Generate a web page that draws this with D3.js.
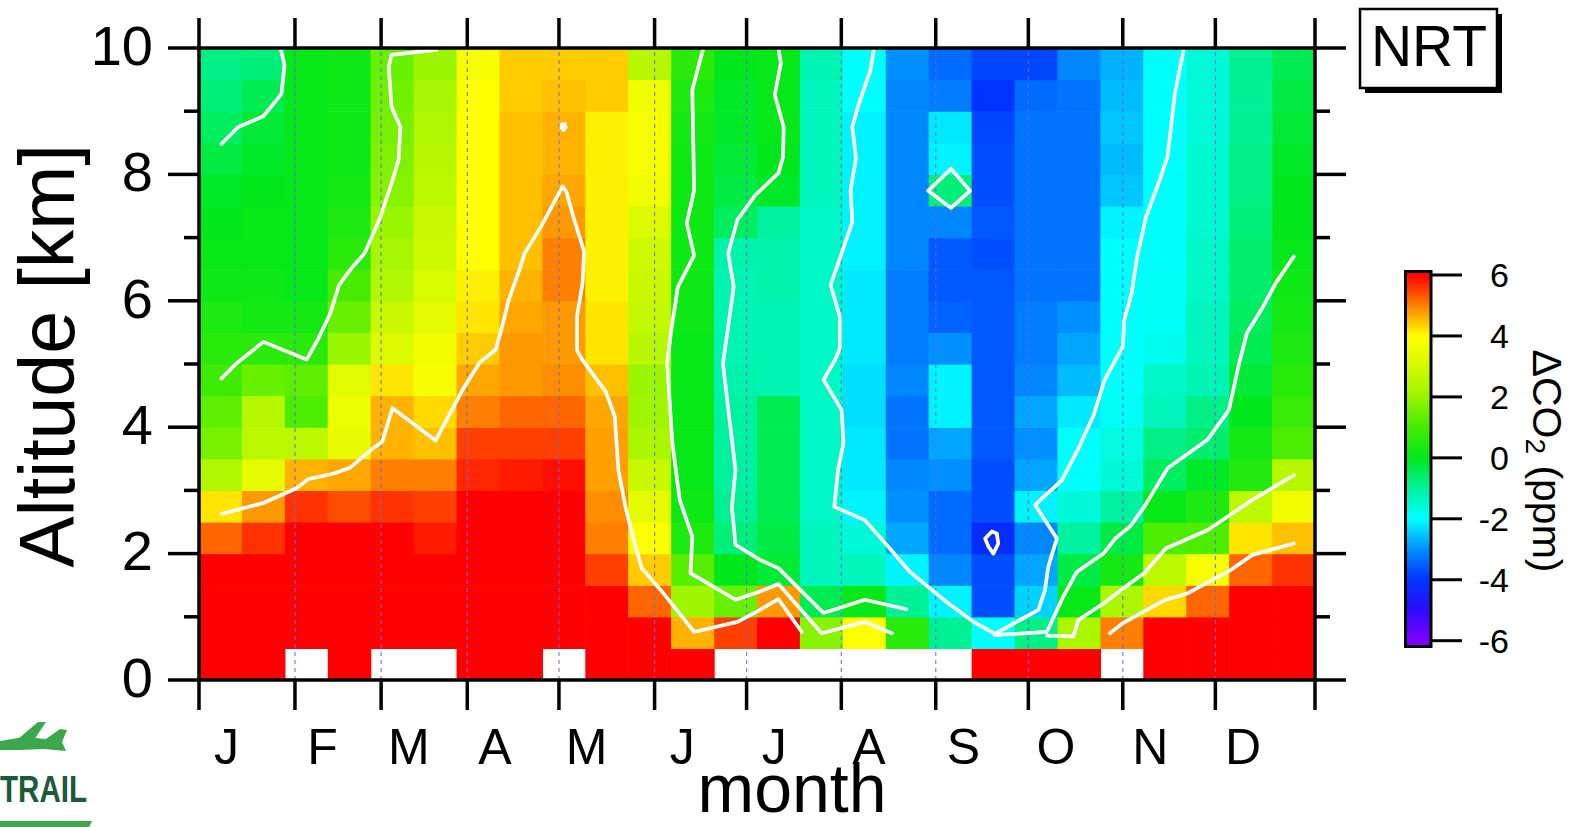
<!DOCTYPE html>
<html>
<head>
<meta charset="utf-8">
<script src="https://cdn.jsdelivr.net/npm/d3@7"></script>
<style>
  html, body { margin: 0; padding: 0; background: #ffffff; }
  svg { display: block; }
  text { font-family: "Liberation Sans", Arial, Helvetica, sans-serif; fill: #000; }
</style>
</head>
<body>
<svg id="chart" width="1571" height="827"></svg>
<script>
// ---- bins: 26 two-week periods, 20 layers of 0.5 km ----
const binWidthDays = 14;
const binStartDays = d3.range(0, 364, binWidthDays);
const binHeightKm = 0.5;
const altitudeBins = d3.range(0, 10, binHeightKm);

// ---- month axis ----
const monthStartDays = [0, 31.3, 59.4, 87.5, 117.4, 148.6, 178.6, 209.5, 240.3, 270.5, 301.3, 331.5, 364];
const monthLabels = ["J", "F", "M", "A", "M", "J", "J", "A", "S", "O", "N", "D"];
const monthLabelShiftDays = 9;

// ---- altitude axis ----
const altMajorTicks = [0, 2, 4, 6, 8, 10];
const altMinorTicks = [1, 3, 5, 7, 9];

// ---- colour bar ----
const colorStops = [-6, -5, -4, -3, -2, -1, 0, 1, 2, 3, 4, 5, 6];
const colorRange = ["#7f00ff", "#2a0cff", "#0033ff", "#0090ff", "#00ffff", "#00f2a0", "#00e81c",
                    "#45ec00", "#99f500", "#d4fa00", "#ffff00", "#ff8000", "#ff0000"];
const colorbarTicks = [-6, -4, -2, 0, 2, 4, 6];

// ---- ΔCO2 (ppm), one row per altitude layer (0-0.5 km first), one value per two-week bin; null = no data ----
const dco2_00 = [7, 7, null, 7, null, null, 7, 7, null, 7, 7, 7, null, null, null, null, null, null, 7, 7, 7, null, 7, 7, 7, 7];
const dco2_05 = [7, 7, 7, 7, 7, 7, 7, 7, 7, 7, 7, 4.6, 5.5, 7, 1.8, 4.0, 0.6, -0.9, -2.0, -0.8, 2.3, 5.0, 7, 7, 7, 7];
const dco2_10 = [7, 7, 7, 7, 7, 7, 7, 7, 7, 7, 5.2, 2.1, 1.4, 4.8, -0.4, 0.1, -0.9, -2.1, -3.7, -2.4, 0.1, 2.3, 4.3, 5.2, 7, 7];
const dco2_15 = [7, 7, 7, 7, 7, 7, 7, 7, 7, 5.5, 4.4, 1.2, 0.0, -0.2, -1.3, -1.3, -2.1, -3.1, -3.7, -2.8, -0.3, 0.3, 2.6, 3.8, 5.2, 5.6];
const dco2_20 = [5.2, 5.6, 7, 7, 7, 5.8, 7, 7, 7, 5.0, 3.9, 0.4, -0.7, -0.3, -1.3, -1.6, -2.8, -3.4, -4.2, -3.1, -1.0, -0.3, 1.1, 1.1, 4.2, 4.5];
const dco2_25 = [4.2, 4.8, 5.6, 5.4, 5.6, 5.5, 7, 7, 7, 4.9, 3.4, 0.2, -0.9, -0.4, -1.4, -2.1, -3.0, -3.4, -3.7, -2.1, -1.6, -1.0, 0.1, 0.4, 2.6, 3.7];
const dco2_30 = [2.4, 3.4, 4.6, 4.7, 5.0, 5.0, 5.7, 5.8, 5.9, 4.75, 2.8, 0.1, -1.0, -0.4, -1.4, -2.2, -3.1, -3.0, -3.7, -2.8, -2.0, -1.6, -0.5, -0.1, 0.5, 2.5];
const dco2_35 = [1.6, 2.6, 2.6, 3.5, 4.6, 4.5, 5.5, 5.5, 5.5, 4.75, 2.3, 0.1, -1.0, -0.4, -1.4, -2.2, -3.3, -2.8, -3.6, -3.0, -2.0, -1.7, -0.8, -0.6, 0.3, 1.1];
const dco2_40 = [1.3, 2.5, 1.1, 3.6, 4.6, 4.3, 5.0, 5.2, 5.2, 4.7, 2.1, 0.1, -1.0, -0.4, -1.4, -2.3, -3.3, -2.1, -3.6, -2.8, -2.2, -1.9, -1.3, -0.8, 0.0, 0.8];
const dco2_45 = [0.9, 1.4, 1.3, 3.3, 4.2, 3.8, 4.7, 4.8, 4.9, 4.5, 2.0, 0.1, -1.1, -1.2, -1.4, -2.3, -3.1, -2.1, -3.6, -3.1, -2.6, -2.0, -1.4, -1.2, -0.2, 0.6];
const dco2_50 = [0.6, 0.6, 0.6, 2.0, 3.2, 3.7, 4.4, 4.8, 4.8, 4.2, 2.5, 0.1, -1.2, -1.2, -1.4, -2.2, -3.2, -3.0, -3.6, -3.2, -2.8, -2.0, -1.8, -1.3, -0.4, 0.4];
const dco2_55 = [0.4, 0.3, 0.3, 1.4, 2.8, 3.4, 4.2, 4.7, 4.8, 4.2, 2.7, 0.2, -1.2, -1.2, -1.4, -2.2, -3.2, -3.5, -3.6, -3.2, -3.0, -2.0, -1.9, -1.3, -0.5, 0.3];
const dco2_60 = [0.2, 0.2, 0.1, 1.0, 2.4, 3.1, 4.1, 4.6, 5.0, 4.1, 2.8, 0.2, -1.2, -1.1, -1.4, -2.2, -3.2, -3.6, -3.6, -3.3, -3.3, -2.0, -1.9, -1.4, -0.6, 0.2];
const dco2_65 = [0.1, 0.1, 0.1, 0.6, 2.2, 2.9, 4.0, 4.5, 5.0, 4.1, 2.9, 0.2, -1.1, -1.1, -1.4, -2.1, -3.1, -3.6, -3.7, -3.3, -3.3, -2.0, -2.0, -1.4, -0.6, 0.1];
const dco2_70 = [0.0, 0.1, 0.1, 0.4, 2.0, 2.8, 4.0, 4.5, 4.8, 4.1, 3.2, 0.2, -0.5, -1.0, -1.4, -2.1, -3.1, -3.1, -3.6, -3.3, -3.3, -2.1, -2.0, -1.5, -0.7, 0.0];
const dco2_75 = [-0.1, 0.0, 0.1, 0.3, 1.8, 2.6, 4.0, 4.5, 4.7, 4.1, 3.7, 0.2, -0.3, -0.1, -1.3, -2.1, -3.1, -0.7, -3.7, -3.3, -3.3, -2.5, -2.0, -1.5, -0.8, 0.0];
const dco2_80 = [-0.3, -0.1, 0.1, 0.2, 1.7, 2.5, 4.0, 4.5, 4.6, 4.1, 3.8, 0.2, -0.2, 0.0, -1.3, -2.1, -3.1, -2.1, -3.7, -3.3, -3.3, -2.6, -2.0, -1.5, -0.8, -0.1];
const dco2_85 = [-0.5, -0.2, 0.1, 0.2, 1.6, 2.4, 4.0, 4.5, 4.6, 4.1, 3.8, 0.3, -0.1, 0.1, -1.3, -2.1, -3.1, -2.2, -3.8, -3.3, -3.3, -2.5, -2.0, -1.6, -0.9, -0.2];
const dco2_90 = [-0.7, -0.4, 0.1, 0.2, 1.5, 2.2, 4.0, 4.4, 4.5, 4.4, 3.7, 0.4, -0.1, 0.1, -1.3, -2.0, -3.1, -3.2, -4.0, -3.4, -3.3, -2.6, -2.0, -1.6, -0.9, -0.3];
const dco2_95 = [-0.8, -0.7, 0.1, 0.2, 1.4, 2.0, 3.8, 4.4, 4.4, 4.4, 2.5, 0.6, 0.0, 0.1, -1.2, -2.0, -3.0, -3.4, -3.8, -3.8, -3.1, -2.7, -2.0, -1.6, -0.9, -0.4];
const deltaCO2 = [dco2_00, dco2_05, dco2_10, dco2_15, dco2_20, dco2_25, dco2_30, dco2_35, dco2_40, dco2_45,
                  dco2_50, dco2_55, dco2_60, dco2_65, dco2_70, dco2_75, dco2_80, dco2_85, dco2_90, dco2_95];

// ---- contour lines: [day of year, altitude km] ----
const contourA = [[26.6,10.0],[27.9,9.73],[26.9,9.28],[26.0,9.22],[21.0,8.92],[12.8,8.75],[7.3,8.48]];
const contourB = [[77.4,9.97],[62.8,9.89],[61.9,9.70],[62.8,9.07],[65.7,8.75],[65.1,8.23],[62.8,7.86],[59.2,7.33],[54.0,6.75],[49.3,6.49],[45.7,6.25],[42.8,5.80],[38.7,5.38],[35.1,5.07],[21.0,5.35],[12.2,5.01],[7.3,4.77]];
const contourC = [[7.5,2.63],[21.0,2.80],[31.6,3.03],[35.7,3.18],[43.4,3.26],[49.3,3.36],[56.9,3.67],[59.8,3.77],[63.1,4.30],[77.2,3.79],[81.0,4.14],[86.3,4.62],[91.7,5.03],[96.8,5.23],[98.6,5.54],[101.0,6.01],[104.5,6.49],[106.2,6.75],[111.5,7.17],[118.6,7.81],[119.8,7.73],[122.1,7.33],[125.6,6.78],[125.1,6.28],[123.3,5.75],[123.3,5.22],[125.1,5.06],[132.7,4.56],[135.6,4.17],[136.8,3.32],[139.1,2.74],[141.5,2.27],[144.4,1.77],[151.5,1.37],[161.5,0.76],[175.6,0.92],[183.0,1.11],[189.0,1.28],[196.6,0.76]];
const contourD = [[164.4,9.98],[160.9,9.34],[161.5,7.75],[159.1,7.23],[161.5,6.72],[156.2,6.22],[153.9,5.49],[152.7,5.01],[154.4,3.75],[156.8,2.85],[160.9,2.27],[160.3,1.69],[175.0,1.27],[183.0,1.40],[189.0,1.52],[203.1,0.74],[217.2,0.92],[226.0,0.74]];
const contourE = [[189.0,9.98],[189.8,9.76],[187.8,9.26],[190.7,8.75],[190.5,8.28],[189.0,8.02],[181.4,7.67],[175.6,7.28],[172.6,6.75],[174.4,6.22],[172.6,5.59],[170.9,5.01],[171.5,4.75],[175.0,3.32],[173.8,2.74],[175.0,2.14],[183.0,1.90],[189.0,1.77],[203.7,1.06],[217.2,1.27],[230.7,1.12]];
const contourF = [[220.1,9.98],[219.0,9.65],[214.9,9.07],[213.1,8.75],[214.3,8.25],[212.5,7.75],[213.1,7.25],[209.6,6.75],[206.0,6.25],[209.0,5.75],[209.0,5.25],[207.4,5.06],[203.7,4.75],[209.6,4.27],[210.2,3.75],[208.4,3.32],[207.2,2.74],[217.2,2.53],[224.8,2.11],[231.9,1.71],[238.4,1.45],[245.0,1.19],[252.6,0.92],[259.6,0.73],[266.7,0.92],[273.8,1.11],[275.9,1.42],[277.0,1.79],[279.8,2.24],[272.7,2.77],[281.4,3.16],[287.1,3.69],[291.8,4.19],[295.4,4.75],[298.9,5.06],[301.3,5.27],[301.8,5.70],[304.2,6.12],[306.0,6.70],[308.9,7.33],[313.0,7.86],[315.9,8.28],[318.3,9.28],[321.2,9.98]];
const contourG = [[357.1,6.70],[351.2,6.28],[347.1,5.91],[341.8,5.49],[339.5,5.06],[335.9,4.27],[328.9,3.80],[315.9,3.35],[308.3,2.74],[303.7,2.43],[298.9,2.24],[295.0,2.00],[286.3,1.71],[281.9,1.32],[276.5,0.76],[259.6,0.71]];
const contourH = [[357.1,3.24],[343.6,2.85],[328.9,2.37],[315.3,2.08],[308.3,1.69],[303.7,1.53],[295.0,1.21],[286.8,0.95],[285.2,0.69],[276.6,0.70]];
const contourJ = [[357.1,2.16],[343.6,1.98],[336.5,1.74],[322.4,1.37],[315.3,1.27],[301.3,0.90],[297.1,0.74]];
const loopSep = [[245.3,8.09],[251.5,7.74],[245.3,7.47],[237.8,7.74]];
const loopLow = [[256.4,2.24],[258.6,2.35],[260.2,2.32],[260.7,2.16],[259.1,2.00],[257.5,2.11]];
const loopMay = [[118.3,8.79],[119.3,8.80],[119.6,8.74],[118.9,8.70],[118.2,8.74]];
const openContours = [contourA, contourB, contourC, contourD, contourE, contourF, contourG, contourH, contourJ];
const closedContours = [loopSep, loopLow, loopMay];

// ---- drawing ----
const svg = d3.select("#chart");
const plot = { left: 199, right: 1315, top: 48, bottom: 680 };

const x = d3.scaleLinear().domain([0, 364]).range([plot.left, plot.right]);
const y = d3.scaleLinear().domain([0, 10]).range([plot.bottom, plot.top]);
const color = d3.scaleLinear().domain(colorStops).range(colorRange).clamp(true);

svg.append("rect").attr("width", 1571).attr("height", 827).attr("fill", "#ffffff");

// heat-map cells
const cells = [];
deltaCO2.forEach((row, j) => row.forEach((v, i) => { if (v !== null) cells.push({ i, j, v }); }));
svg.append("g").selectAll("rect").data(cells).join("rect")
  .attr("x", d => x(binStartDays[d.i]))
  .attr("y", d => y(altitudeBins[d.j] + binHeightKm))
  .attr("width", d => x(binStartDays[d.i] + binWidthDays) - x(binStartDays[d.i]) + 0.6)
  .attr("height", d => y(altitudeBins[d.j]) - y(altitudeBins[d.j] + binHeightKm) + 0.6)
  .attr("fill", d => color(d.v));

// month separators
svg.append("g").selectAll("line").data(monthStartDays.slice(1, -1)).join("line")
  .attr("x1", d => x(d)).attr("x2", d => x(d))
  .attr("y1", y(0)).attr("y2", y(10))
  .attr("stroke", "#6a6ae0").attr("stroke-width", 1.2)
  .attr("stroke-dasharray", "4,4").attr("opacity", 0.85);

// contour lines
svg.append("clipPath").attr("id", "plotClip").append("rect")
  .attr("x", plot.left).attr("y", plot.top)
  .attr("width", plot.right - plot.left).attr("height", plot.bottom - plot.top);
const line = d3.line().x(d => x(d[0])).y(d => y(d[1]));
const closedLine = d3.line().x(d => x(d[0])).y(d => y(d[1])).curve(d3.curveLinearClosed);
const cg = svg.append("g").attr("clip-path", "url(#plotClip)")
  .attr("fill", "none").attr("stroke", "#ffffff").attr("stroke-width", 3.7)
  .attr("stroke-linejoin", "round").attr("stroke-linecap", "round");
cg.selectAll("path.open").data(openContours).join("path").attr("class", "open").attr("d", line);
cg.selectAll("path.closed").data(closedContours).join("path").attr("class", "closed").attr("d", closedLine);

// frame and ticks
const axis = svg.append("g").attr("stroke", "#000").attr("stroke-width", 3.5).attr("fill", "none");
axis.append("rect").attr("x", plot.left).attr("y", plot.top)
  .attr("width", plot.right - plot.left).attr("height", plot.bottom - plot.top);
axis.selectAll("line.tb").data(monthStartDays).join("line").attr("class", "tb")
  .attr("x1", d => x(d)).attr("x2", d => x(d)).attr("y1", y(0)).attr("y2", y(0) + 30);
axis.selectAll("line.tt").data(monthStartDays).join("line").attr("class", "tt")
  .attr("x1", d => x(d)).attr("x2", d => x(d)).attr("y1", y(10)).attr("y2", y(10) - 30);
axis.selectAll("line.lM").data(altMajorTicks).join("line").attr("class", "lM")
  .attr("x1", plot.left).attr("x2", plot.left - 31).attr("y1", d => y(d)).attr("y2", d => y(d));
axis.selectAll("line.lm").data(altMinorTicks).join("line").attr("class", "lm")
  .attr("x1", plot.left).attr("x2", plot.left - 15).attr("y1", d => y(d)).attr("y2", d => y(d));
axis.selectAll("line.rM").data(altMajorTicks).join("line").attr("class", "rM")
  .attr("x1", plot.right).attr("x2", plot.right + 31).attr("y1", d => y(d)).attr("y2", d => y(d));
axis.selectAll("line.rm").data(altMinorTicks).join("line").attr("class", "rm")
  .attr("x1", plot.right).attr("x2", plot.right + 15).attr("y1", d => y(d)).attr("y2", d => y(d));

// tick labels
svg.append("g").selectAll("text").data(altMajorTicks).join("text")
  .attr("x", 153).attr("y", d => y(d)).attr("dy", "0.3em")
  .attr("text-anchor", "end").attr("font-size", 56).text(d => d);
svg.append("g").selectAll("text").data(monthLabels).join("text")
  .attr("x", (d, i) => x(monthStartDays[i] + monthLabelShiftDays)).attr("y", 764)
  .attr("text-anchor", "middle").attr("font-size", 50).text(d => d);

// axis titles
svg.append("text").attr("transform", "translate(74,356) rotate(-90)")
  .attr("text-anchor", "middle").attr("font-size", 77).text("Altitude [km]");
svg.append("text").attr("x", 792).attr("y", 812)
  .attr("text-anchor", "middle").attr("font-size", 68).text("month");

// colour bar
const cb = d3.scaleLinear().domain([-6, 6]).range([640.7, 275]);
const cbTop = 271.5, cbBottom = 646.5, cbLeft = 1405.5, cbWidth = 25.5;
const grad = svg.append("defs").append("linearGradient").attr("id", "cbGrad")
  .attr("x1", 0).attr("x2", 0).attr("y1", 0).attr("y2", 1);
d3.range(60).map(k => cb.invert(cbTop + (cbBottom - cbTop) * k / 59)).forEach(v => {
  grad.append("stop").attr("offset", (cb(v) - cbTop) / (cbBottom - cbTop)).attr("stop-color", color(v));
});
svg.append("rect").attr("x", cbLeft).attr("y", cbTop).attr("width", cbWidth).attr("height", cbBottom - cbTop)
  .attr("fill", "url(#cbGrad)").attr("stroke", "#000").attr("stroke-width", 3);
svg.append("g").selectAll("line").data(colorbarTicks).join("line")
  .attr("x1", cbLeft + cbWidth).attr("x2", cbLeft + cbWidth + 31)
  .attr("y1", d => cb(d)).attr("y2", d => cb(d))
  .attr("stroke", "#000").attr("stroke-width", 3);
svg.append("g").selectAll("text").data(colorbarTicks).join("text")
  .attr("x", 1509).attr("y", d => cb(d)).attr("dy", "0.36em")
  .attr("text-anchor", "end").attr("font-size", 34).text(d => d);
const cbTitle = svg.append("text").attr("transform", "translate(1533,461) rotate(90)")
  .attr("text-anchor", "middle").attr("font-size", 41);
cbTitle.append("tspan").text("ΔCO");
cbTitle.append("tspan").attr("font-size", 28).attr("dy", 7).text("2");
cbTitle.append("tspan").attr("dy", -7).text(" (ppm)");

// station tag
svg.append("rect").attr("x", 1365).attr("y", 14).attr("width", 137).attr("height", 79).attr("fill", "#000");
svg.append("rect").attr("x", 1360).attr("y", 9).attr("width", 137).attr("height", 79)
  .attr("fill", "#fff").attr("stroke", "#000").attr("stroke-width", 2.5);
svg.append("text").attr("x", 1429).attr("y", 66).attr("text-anchor", "middle")
  .attr("font-size", 57).text("NRT");

// project logo
const logo = svg.append("g").attr("fill", "#3aa84b");
logo.append("path")
  .attr("d", "M0,741 L24,737 L46,739 L60,729 L67,730 L62,742 L66,751 L44,749 L20,750 L0,750 Z");
logo.append("path")
  .attr("d", "M18,739 L38,722 L46,722 L34,740 Z");
logo.append("text").attr("x", 0).attr("y", 802).attr("font-size", 37).attr("font-weight", "bold")
  .attr("textLength", 87).attr("lengthAdjust", "spacingAndGlyphs")
  .style("fill", "#1c5a3a").text("TRAIL");
logo.append("path").attr("d", "M0,821 L92,821 L89,827 L0,827 Z");
</script>
</body>
</html>
